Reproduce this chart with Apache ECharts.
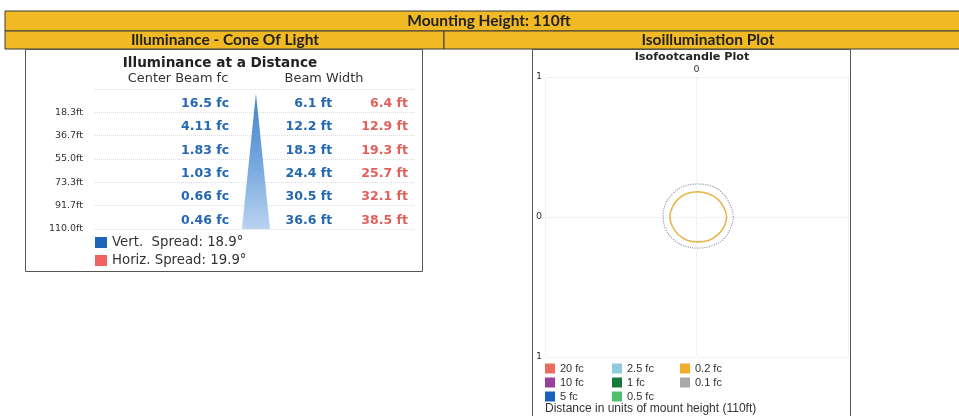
<!DOCTYPE html>
<html><head><meta charset="utf-8">
<script src="https://cdn.jsdelivr.net/npm/echarts@6/dist/echarts.min.js"></script>
<style>html,body{margin:0;padding:0;background:#fff}#c{width:959px;height:416px}</style>
</head><body><div id="c"></div>
<script>
// ---------- data ----------
const mountingHeight = '110ft';
const distances = [18.3, 36.7, 55.0, 73.3, 91.7, 110.0];
const distanceLabels = ['18.3ft', '36.7ft', '55.0ft', '73.3ft', '91.7ft', '110.0ft'];
const centerBeamFc = ['16.5', '4.11', '1.83', '1.03', '0.66', '0.46'];
const vertBeamWidth = ['6.1', '12.2', '18.3', '24.4', '30.5', '36.6'];
const horizBeamWidth = ['6.4', '12.9', '19.3', '25.7', '32.1', '38.5'];
const vertSpread = 18.9;
const horizSpread = 19.9;
const isoLevels = ['20 fc', '10 fc', '5 fc', '2.5 fc', '1 fc', '0.5 fc', '0.2 fc', '0.1 fc'];
// contour points in units of mount height (x, y)
const contour02 = [[0.01,0.18],[0.087,0.166],[0.151,0.127],[0.195,0.069],[0.215,0.0],[0.195,-0.072],[0.148,-0.13],[0.085,-0.168],[0.01,-0.178],[-0.068,-0.166],[-0.128,-0.127],[-0.172,-0.068],[-0.19,0.0],[-0.172,0.07],[-0.13,0.13],[-0.068,0.168],[0.01,0.18]];
const contour01 = [[0.01,0.236],[0.105,0.222],[0.185,0.17],[0.238,0.09],[0.262,0.0],[0.24,-0.085],[0.19,-0.16],[0.11,-0.205],[0.01,-0.222],[-0.09,-0.205],[-0.165,-0.16],[-0.22,-0.085],[-0.238,0.005],[-0.22,0.095],[-0.165,0.17],[-0.085,0.222],[0.01,0.236]];

// ---------- style ----------
const isoColors = ['#ee6a5e', '#9c3f9e', '#1762b8', '#8fc9e0', '#177a3c', '#4fbf6e', '#f3ac2e', '#a9a9a9'];
const BLUE = '#2467b3', RED = '#e2605b', GOLD = '#f1b923';
const F = '"DejaVu Sans", sans-serif';
const H = 'Lato, "Open Sans", sans-serif';
const LS = '"Liberation Sans", Arial, sans-serif';

const chart = echarts.init(document.getElementById('c'), null, {renderer: 'canvas'});

const step = 110 / 6;
const colX = {fc: 41.9, cone: 50.3, vw: 74.1, hw: 97.8};
const coneTop = 3.5;
const coneHalf = parseFloat(vertBeamWidth[vertBeamWidth.length - 1]) * 0.12;

function textSeries(name, x, arr, suffix, color) {
  return {
    type: 'custom', name: name, xAxisIndex: 0, yAxisIndex: 0,
    itemStyle: {color: color}, silent: true,
    data: distances.map((d, i) => [x, d, i]),
    renderItem: function (params, api) {
      const i = api.value(2);
      const p = api.coord([api.value(0), api.value(1)]);
      return {type: 'text', x: p[0], y: p[1] - 8.5,
        style: {text: arr[i] + suffix, align: 'right', verticalAlign: 'middle',
          fill: color, font: 'bold 12.5px ' + F}};
    }
  };
}

const vertName = 'Vert.  Spread: ' + vertSpread + '°';
const horizName = 'Horiz. Spread: ' + horizSpread + '°';

const isoSeries = isoLevels.map((lv, k) => {
  const s = {type: 'line', name: lv, xAxisIndex: 1, yAxisIndex: 1, symbol: 'none',
    itemStyle: {color: isoColors[k]}, lineStyle: {color: isoColors[k], width: 1.3}, data: [], silent: true};
  if (lv === '0.2 fc') { s.data = contour02; s.smooth = 0.4; s.lineStyle = {color: '#e6b64c', width: 1.6}; }
  if (lv === '0.1 fc') { s.data = contour01; s.smooth = 0.4; s.lineStyle = {color: '#9c9cab', width: 1.2, type: 'dotted'}; }
  return s;
});

const legendText = {fontFamily: LS, fontSize: 11, color: '#333'};
function isoLegend(left, names) {
  return {left: left, top: 363, orient: 'vertical', icon: 'rect', itemWidth: 10, itemHeight: 10,
    itemGap: 3, padding: 0, selectedMode: false, data: names, textStyle: legendText};
}

const option = {
  animation: false,
  grid: [
    {left: 95, top: 89, width: 320, height: 140},
    {left: 545, top: 77, width: 303, height: 280}
  ],
  xAxis: [
    {gridIndex: 0, type: 'value', min: 0, max: 100, show: false},
    {gridIndex: 1, type: 'value', min: -1.08, max: 1.08, interval: 1.08, position: 'top',
      axisLine: {show: false}, axisTick: {show: false},
      axisLabel: {margin: 2, fontSize: 9.5, fontFamily: F, color: '#333',
        formatter: v => Math.abs(v) < 1e-6 ? '0' : ''},
      splitLine: {show: true, lineStyle: {color: '#e4e4e4', type: 'dotted'}}}
  ],
  yAxis: [
    {gridIndex: 0, type: 'value', min: 0, max: 110, interval: step, inverse: true,
      axisLine: {show: false}, axisTick: {show: false},
      axisLabel: {margin: 12, fontSize: 9.5, fontFamily: F, color: '#333',
        formatter: v => { const i = Math.round(v / step) - 1; return i >= 0 ? distanceLabels[i] : ''; }},
      splitLine: {show: true, lineStyle: {color: '#dcdcdc', type: 'dotted'}}},
    {gridIndex: 1, type: 'value', min: -1, max: 1, interval: 1,
      axisLine: {show: false}, axisTick: {show: false},
      axisLabel: {margin: 3, fontSize: 9.5, fontFamily: F, color: '#333', formatter: v => String(Math.abs(v))},
      splitLine: {show: true, lineStyle: {color: '#e4e4e4', type: 'dotted'}}}
  ],
  legend: [
    {left: 95, top: 236, orient: 'vertical', icon: 'rect', itemWidth: 12, itemHeight: 11, itemGap: 5,
      padding: 0, selectedMode: false, data: [vertName, horizName],
      textStyle: {fontFamily: F, fontSize: 13.3, color: '#333'}},
    isoLegend(545, isoLevels.slice(0, 3)),
    isoLegend(612, isoLevels.slice(3, 6)),
    isoLegend(680, isoLevels.slice(6))
  ],
  graphic: [
    {type: 'rect', shape: {x: 5, y: 11, width: 990, height: 20}, style: {fill: GOLD, stroke: '#3a3a3a', lineWidth: 1}},
    {type: 'rect', shape: {x: 5, y: 31, width: 439, height: 18}, style: {fill: GOLD, stroke: '#3a3a3a', lineWidth: 1}},
    {type: 'rect', shape: {x: 444, y: 31, width: 550, height: 18}, style: {fill: GOLD, stroke: '#3a3a3a', lineWidth: 1}},
    {type: 'text', x: 489, y: 21, style: {text: 'Mounting Height: ' + mountingHeight, align: 'center', verticalAlign: 'middle', fill: '#222', font: 'bold 15.5px ' + H}},
    {type: 'text', x: 225, y: 40, style: {text: 'Illuminance - Cone Of Light', align: 'center', verticalAlign: 'middle', fill: '#222', font: 'bold 15.5px ' + H}},
    {type: 'text', x: 708, y: 40, style: {text: 'Isoillumination Plot', align: 'center', verticalAlign: 'middle', fill: '#222', font: 'bold 15.5px ' + H}},
    {type: 'rect', shape: {x: 25.5, y: 49.5, width: 397, height: 222}, style: {fill: 'none', stroke: '#555', lineWidth: 1}},
    {type: 'rect', shape: {x: 532.5, y: 49.5, width: 318, height: 400}, style: {fill: 'none', stroke: '#555', lineWidth: 1}},
    {type: 'text', x: 220, y: 63, style: {text: 'Illuminance at a Distance', align: 'center', verticalAlign: 'middle', fill: '#222', font: 'bold 13.6px ' + F}},
    {type: 'text', x: 178, y: 79, style: {text: 'Center Beam fc', align: 'center', verticalAlign: 'middle', fill: '#333', font: '12.9px ' + F}},
    {type: 'text', x: 324, y: 79, style: {text: 'Beam Width', align: 'center', verticalAlign: 'middle', fill: '#333', font: '12.9px ' + F}},
    {type: 'text', x: 692, y: 57, style: {text: 'Isofootcandle Plot', align: 'center', verticalAlign: 'middle', fill: '#222', font: 'bold 11.2px ' + F}},
    {type: 'text', x: 545, y: 409, style: {text: 'Distance in units of mount height (' + mountingHeight + ')', align: 'left', verticalAlign: 'middle', fill: '#333', font: '12px ' + LS}}
  ],
  series: [
    {type: 'custom', name: 'cone', xAxisIndex: 0, yAxisIndex: 0, silent: true, data: [[colX.cone, coneTop]],
      renderItem: function (params, api) {
        const apex = api.coord([colX.cone, coneTop]);
        const bl = api.coord([colX.cone - coneHalf, 110]);
        const br = api.coord([colX.cone + coneHalf, 110]);
        return {type: 'polygon', shape: {points: [apex, br, bl]},
          style: {fill: new echarts.graphic.LinearGradient(0, 0, 0, 1, [
            {offset: 0, color: '#4580cc'}, {offset: 0.5, color: '#74a6de'}, {offset: 1, color: '#b8d3f0'}])}};
      }},
    textSeries('centerfc', colX.fc, centerBeamFc, ' fc', BLUE),
    textSeries(vertName, colX.vw, vertBeamWidth, ' ft', BLUE),
    textSeries(horizName, colX.hw, horizBeamWidth, ' ft', RED)
  ].concat(isoSeries)
};
option.series[2].itemStyle = {color: '#1e64b8'};
option.series[3].itemStyle = {color: '#f0645f'};
chart.setOption(option);
</script></body></html>
